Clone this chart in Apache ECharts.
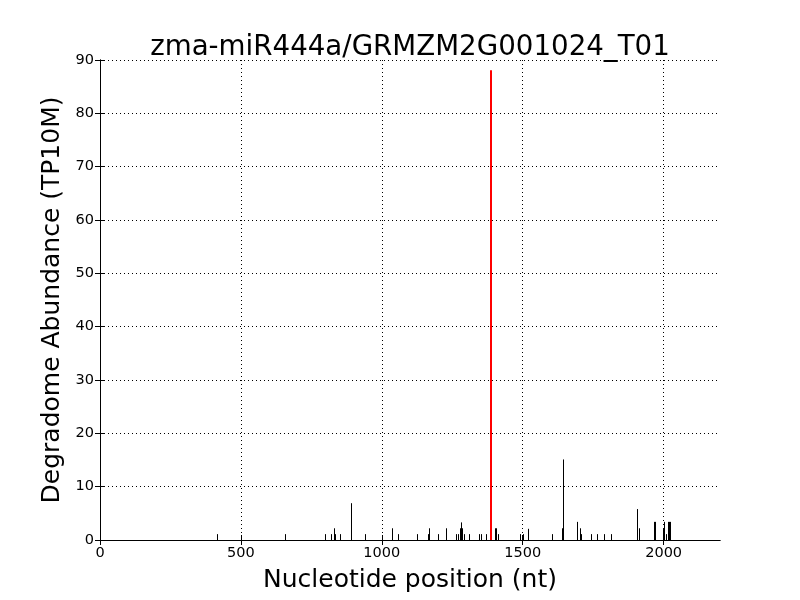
<!DOCTYPE html>
<html>
<head>
<meta charset="utf-8">
<script src="https://cdn.jsdelivr.net/npm/echarts@6/dist/echarts.min.js"></script>
<style>html,body{margin:0;padding:0;background:#fff}#c{width:800px;height:600px}</style>
</head>
<body>
<div id="c"></div>
<script>
const titleText = 'zma-miR444a/GRMZM2G001024_T01';
const xName = 'Nucleotide position (nt)';
const yName = 'Degradome Abundance (TP10M)';
const xTicks = [0, 500, 1000, 1500, 2000];
const yTicks = [0, 10, 20, 30, 40, 50, 60, 70, 80, 90];

const positions = [416, 657, 799, 820, 829, 833, 852, 891, 940, 1036, 1057, 1124, 1163, 1166, 1199, 1227,
  1264, 1269, 1277, 1280, 1284, 1292, 1308, 1346, 1352, 1371, 1401, 1405, 1411, 1490, 1500, 1518,
  1603, 1641, 1643, 1692, 1703, 1707, 1742, 1763, 1788, 1813, 1905, 1912, 1967, 1970, 1998, 2001,
  2007, 2014, 2019, 2024];
const abundances = [1.1, 1.1, 1.1, 1.1, 2.2, 1.1, 1.1, 6.9, 1.1, 2.2, 1.1, 1.1, 1.1, 2.2, 1.1, 2.2,
  1.1, 1.1, 2.2, 3.3, 2.2, 1.1, 1.1, 1.1, 1.1, 1.1, 2.2, 2.2, 1.1, 1.1, 1.1, 2.1,
  1.1, 2.2, 15.1, 3.4, 2.2, 1.1, 1.1, 1.1, 1.1, 1.1, 5.8, 2.2, 3.4, 3.4, 2.2, 3.4,
  1.1, 3.4, 3.4, 3.4];
const targetPosition = [1386];
const targetAbundance = [88.1];

const FONT = 'DejaVu Sans';
const chart = echarts.init(document.getElementById('c'), null, {renderer: 'canvas'});

function lineRenderer(color, width) {
  return function (params, api) {
    const p0 = api.coord([api.value(0), 0]);
    const p1 = api.coord([api.value(0), api.value(1)]);
    const x = width % 2 ? Math.round(p0[0]) + 0.5 : Math.round(p0[0]);
    return {
      type: 'line',
      shape: {x1: x, y1: p0[1], x2: x, y2: p1[1]},
      style: {stroke: color, lineWidth: width}
    };
  };
}

const axisCommon = {
  axisLine: {show: true, lineStyle: {color: '#000', width: 1}},
  splitLine: {show: false},
  axisLabel: {show: false}
};

const option = {
  animation: false,
  backgroundColor: '#fff',
  title: {
    text: titleText, left: 405, top: 29, textAlign: 'center',
    textStyle: {fontFamily: FONT, fontSize: 27.7, fontWeight: 'normal', color: '#000'}
  },
  grid: {left: 100, right: 80, top: 60, bottom: 60},
  xAxis: [{
    type: 'value', min: 0, max: 2200, interval: 500,
    name: xName, nameLocation: 'middle', nameGap: 28,
    nameTextStyle: {fontFamily: FONT, fontSize: 25, color: '#000'},
    axisLine: {show: true, lineStyle: {color: '#000', width: 1}},
    axisTick: {show: true, inside: true, length: 5, customValues: xTicks, lineStyle: {color: '#000'}},
    axisLabel: {
      fontFamily: FONT, fontSize: 14.5, color: '#000', margin: 6, customValues: xTicks,
      formatter: v => String(v)
    },
    splitLine: {show: true, lineStyle: {color: '#000', type: [1, 3], width: 1}}
  }, Object.assign({type: 'value', min: 0, max: 2200, interval: 500, position: 'top',
    axisTick: {show: true, inside: true, length: 5, customValues: xTicks, lineStyle: {color: '#000'}}}, axisCommon)],
  yAxis: [{
    type: 'value', min: 0, max: 90, interval: 10,
    name: yName, nameLocation: 'middle', nameGap: 34,
    nameTextStyle: {fontFamily: FONT, fontSize: 25, color: '#000'},
    axisLine: {show: true, lineStyle: {color: '#000', width: 1}},
    axisTick: {show: true, inside: true, length: 5, lineStyle: {color: '#000'}},
    axisLabel: {
      fontFamily: FONT, fontSize: 14.5, color: '#000', margin: 6,
      formatter: v => yTicks.indexOf(v) >= 0 ? String(v) : ''
    },
    splitLine: {show: true, lineStyle: {color: '#000', type: [1, 3], width: 1}}
  }, Object.assign({type: 'value', min: 0, max: 90, interval: 10, position: 'right',
    axisTick: {show: true, inside: true, length: 5, lineStyle: {color: '#000'}}}, axisCommon)],
  series: [{
    type: 'custom',
    xAxisIndex: 0, yAxisIndex: 0,
    renderItem: lineRenderer('#000', 1),
    data: positions.map((p, i) => [p, abundances[i]]),
    z: 3
  }, {
    type: 'custom',
    xAxisIndex: 0, yAxisIndex: 0,
    renderItem: lineRenderer('#ff0000', 2),
    data: targetPosition.map((p, i) => [p, targetAbundance[i]]),
    z: 4
  }]
};
chart.setOption(option);
</script>
</body>
</html>
